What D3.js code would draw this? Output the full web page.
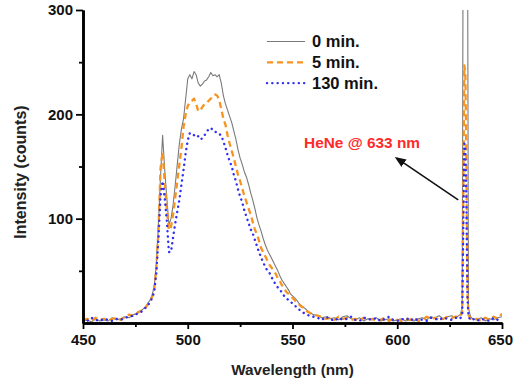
<!DOCTYPE html>
<html>
<head>
<meta charset="utf-8">
<script src="https://cdn.jsdelivr.net/npm/d3@7"></script>
<style>
  body { margin: 0; background: #fff; }
  svg text { font-family: "Liberation Sans", Arial, sans-serif; font-weight: bold; }
</style>
</head>
<body>
<svg id="chart" width="513" height="382"></svg>
<script>

/* Wavelength grid (nm), finer where the spectrum has structure */
var wavelength = [
  450, 452, 454, 456, 458, 460, 462, 464, 466, 468, 470, 472, 474, 476,
  477, 478, 479, 480, 481, 482, 483, 484, 485, 486, 487, 488, 489, 490,
  491, 492, 493, 494, 495, 496, 497, 498, 499, 500, 501, 502, 503, 504,
  505, 506, 507, 508, 509, 510, 511, 512, 513, 514, 515, 516, 517, 518,
  519, 520, 521, 522, 523, 524, 525, 526, 527, 528, 529, 530, 531, 532,
  533, 534, 535, 536, 537, 538, 539, 540, 541, 542, 543, 544, 545, 546,
  547, 548, 549, 550, 551, 552, 553, 554, 555, 556, 557, 558, 559, 560,
  562, 564, 566, 568, 570, 572, 574, 576, 578, 580, 582, 584, 586, 588,
  590, 592, 594, 596, 598, 600, 602, 604, 606, 608, 610, 612, 614, 616,
  618, 620, 622, 624, 626, 628,
  630, 631, 631.5, 632, 632.5, 633, 633.5, 634, 635, 636,
  638, 640, 642, 644, 646, 648, 650
];

var counts0 = [
  2, 3, 1, 4, 2, 3, 2, 5, 3, 4, 6, 5, 8, 9,
  11, 12, 14, 16, 19, 22, 27, 35, 58, 95, 140, 180, 147, 120,
  94, 100, 113, 132, 152, 172, 186, 196, 215, 234, 238, 234, 241, 238,
  230, 227, 229, 232, 233, 236, 240, 237, 238, 236, 238, 230, 218, 210,
  204, 198, 192, 184, 176, 166, 158, 152, 145, 140, 133, 125, 118, 110,
  101, 94, 88, 81, 75, 70, 66, 62, 58, 54, 50, 45, 41, 38,
  35, 32, 28, 26, 24, 22, 19, 17, 15, 14, 12, 10, 9, 8,
  7, 5, 6, 4, 5, 3, 6, 7, 4, 3, 5, 2, 4, 3,
  5, 2, 3, 4, 2, 3, 4, 2, 3, 2, 4, 5, 3, 6,
  5, 7, 4, 6, 7, 5,
  8, 14, 420, 440, 430, 440, 420, 14, 6, 4,
  3, 5, 2, 4, 3, 5, 6
];

var counts5 = [
  3, 4, 2, 5, 3, 4, 2, 4, 5, 3, 6, 8, 7, 10,
  11, 12, 13, 15, 18, 21, 25, 33, 52, 88, 148, 164, 135, 110,
  89, 92, 104, 120, 136, 152, 168, 188, 200, 208, 212, 213, 215, 210,
  203, 204, 207, 210, 211, 213, 215, 217, 219, 218, 214, 205, 196, 190,
  180, 172, 165, 158, 150, 142, 136, 129, 122, 116, 110, 104, 97, 90,
  85, 79, 72, 68, 64, 60, 56, 53, 50, 47, 43, 40, 36, 33,
  30, 28, 26, 24, 22, 20, 18, 16, 15, 13, 11, 10, 9, 8,
  7, 6, 4, 5, 3, 6, 4, 5, 3, 4, 2, 5, 3, 4,
  2, 3, 5, 2, 4, 3, 2, 4, 3, 5, 2, 3, 6, 4,
  5, 3, 4, 6, 5, 6,
  6, 10, 120, 247, 240, 160, 30, 8, 4, 3,
  4, 2, 5, 3, 6, 4, 9
];

var counts130 = [
  4, 2, 5, 3, 2, 4, 3, 2, 4, 3, 5, 6, 7, 9,
  10, 11, 13, 15, 17, 20, 24, 30, 48, 80, 122, 136, 120, 98,
  68, 68, 82, 95, 107, 118, 133, 147, 163, 175, 182, 182, 180, 178,
  179, 176, 177, 180, 183, 186, 187, 185, 183, 183, 181, 180, 174, 168,
  161, 155, 150, 142, 136, 128, 121, 116, 108, 102, 96, 90, 86, 80,
  74, 68, 63, 58, 54, 50, 48, 44, 40, 37, 34, 32, 29, 26,
  24, 22, 20, 19, 17, 15, 13, 12, 10, 9, 8, 7, 6, 6,
  5, 3, 6, 4, 2, 5, 3, 4, 6, 3, 2, 5, 4, 3,
  5, 2, 4, 6, 3, 2, 4, 3, 5, 2, 4, 3, 2, 5,
  4, 3, 5, 4, 3, 5,
  4, 8, 90, 172, 168, 120, 25, 6, 3, 4,
  2, 4, 3, 2, 5, 3, 4
];

var seriesNames = ["0 min.", "5 min.", "130 min."];
var xTicks = [450, 500, 550, 600, 650],
    xMinor = [475, 525, 575, 625],
    yTicks = [100, 200, 300],
    yMinor = [50, 150, 250];

/* HeNe note: label anchor and arrow, in data units */
var noteText = "HeNe @ 633 nm",
    noteAt = [555.5, 167.5],
    arrowFrom = [629.1, 118],
    arrowTo = [599.7, 158];

var margin = {top: 10, right: 11, bottom: 59, left: 83},
    width = 513 - margin.left - margin.right,
    height = 382 - margin.top - margin.bottom;

var styles = [
  {values: counts0, color: "#7a7a7a", width: 1.1, dash: null, cap: "butt"},
  {values: counts5, color: "#f7931e", width: 2.3, dash: "6,4", cap: "butt"},
  {values: counts130, color: "#2f2ff5", width: 2.4, dash: "0.1,5.2", cap: "round"}
];

var svg = d3.select("#chart");
var g = svg.append("g")
  .attr("transform", `translate(${margin.left},${margin.top})`);

var x = d3.scaleLinear().domain([450, 650]).range([0, width]);
var y = d3.scaleLinear().domain([0, 300]).range([height, 0]);

g.append("clipPath").attr("id", "plot-clip")
  .append("rect")
  .attr("x", 0).attr("y", 0)
  .attr("width", width).attr("height", height);

/* Spectra */
var line = d3.line()
  .x((d, i) => x(wavelength[i]))
  .y((d) => y(d));

g.append("g").attr("clip-path", "url(#plot-clip)")
  .selectAll("path")
  .data(styles)
  .enter().append("path")
  .attr("d", (d) => line(d.values))
  .attr("fill", "none")
  .attr("stroke", (d) => d.color)
  .attr("stroke-width", (d) => d.width)
  .attr("stroke-dasharray", (d) => d.dash)
  .attr("stroke-linecap", (d) => d.cap)
  .attr("stroke-linejoin", "round");

/* Axes */
function styleAxis(sel) {
  sel.select(".domain").attr("stroke", "#000").attr("stroke-width", 2.6);
  sel.selectAll(".tick line").attr("stroke", "#000").attr("stroke-width", 1.8);
  sel.selectAll(".tick text")
    .attr("fill", "#111")
    .style("font-size", "15px");
}

g.append("g")
  .attr("transform", `translate(0,${height})`)
  .call(d3.axisBottom(x).tickValues(xMinor).tickSize(4).tickSizeOuter(0).tickFormat(""))
  .call(styleAxis);

var xAxis = g.append("g")
  .attr("transform", `translate(0,${height})`)
  .call(d3.axisBottom(x).tickValues(xTicks).tickSize(6).tickSizeOuter(0).tickPadding(5))
  .call(styleAxis);

/* keep the last label inside the window */
xAxis.selectAll(".tick text")
  .filter((d) => d === 650)
  .attr("dx", "-2px");

g.append("g")
  .call(d3.axisLeft(y).tickValues(yMinor).tickSize(4).tickSizeOuter(0).tickFormat(""))
  .call(styleAxis);

g.append("g")
  .call(d3.axisLeft(y).tickValues(yTicks).tickSize(7).tickSizeOuter(0).tickPadding(3))
  .call(styleAxis);

/* Axis titles */
svg.append("text")
  .attr("x", margin.left + width / 2)
  .attr("y", 375)
  .attr("text-anchor", "middle")
  .style("font-size", "15.3px")
  .attr("fill", "#222")
  .text("Wavelength (nm)");

svg.append("text")
  .attr("transform", "translate(26,172) rotate(-90)")
  .attr("text-anchor", "middle")
  .style("font-size", "16px")
  .attr("fill", "#222")
  .text("Intensity (counts)");

/* Legend */
var legend = g.append("g").attr("transform", "translate(184,31.5)");
var items = legend.selectAll("g")
  .data(styles)
  .enter().append("g")
  .attr("transform", (d, i) => `translate(0,${i * 20.8})`);

items.append("line")
  .attr("x1", 0).attr("x2", 38)
  .attr("stroke", (d) => d.color)
  .attr("stroke-width", (d) => d.width)
  .attr("stroke-dasharray", (d) => d.dash)
  .attr("stroke-linecap", (d) => d.cap);

items.append("text")
  .attr("x", 45)
  .attr("dy", "0.35em")
  .style("font-size", "16.5px")
  .attr("fill", "#111")
  .text((d, i) => seriesNames[i]);

/* HeNe annotation */
g.append("defs").append("marker")
  .attr("id", "arrow-head")
  .attr("viewBox", "0 0 10 10")
  .attr("refX", 8).attr("refY", 5)
  .attr("markerWidth", 7).attr("markerHeight", 7)
  .attr("orient", "auto")
  .append("path")
  .attr("d", "M0,1L10,5L0,9Z")
  .attr("fill", "#111");

g.append("line")
  .attr("x1", x(arrowFrom[0])).attr("y1", y(arrowFrom[1]))
  .attr("x2", x(arrowTo[0])).attr("y2", y(arrowTo[1]))
  .attr("stroke", "#111")
  .attr("stroke-width", 1.6)
  .attr("marker-end", "url(#arrow-head)");

g.append("text")
  .attr("x", x(noteAt[0]))
  .attr("y", y(noteAt[1]))
  .style("font-size", "15.4px")
  .attr("fill", "#ff2a2a")
  .text(noteText);

</script>
</body>
</html>
